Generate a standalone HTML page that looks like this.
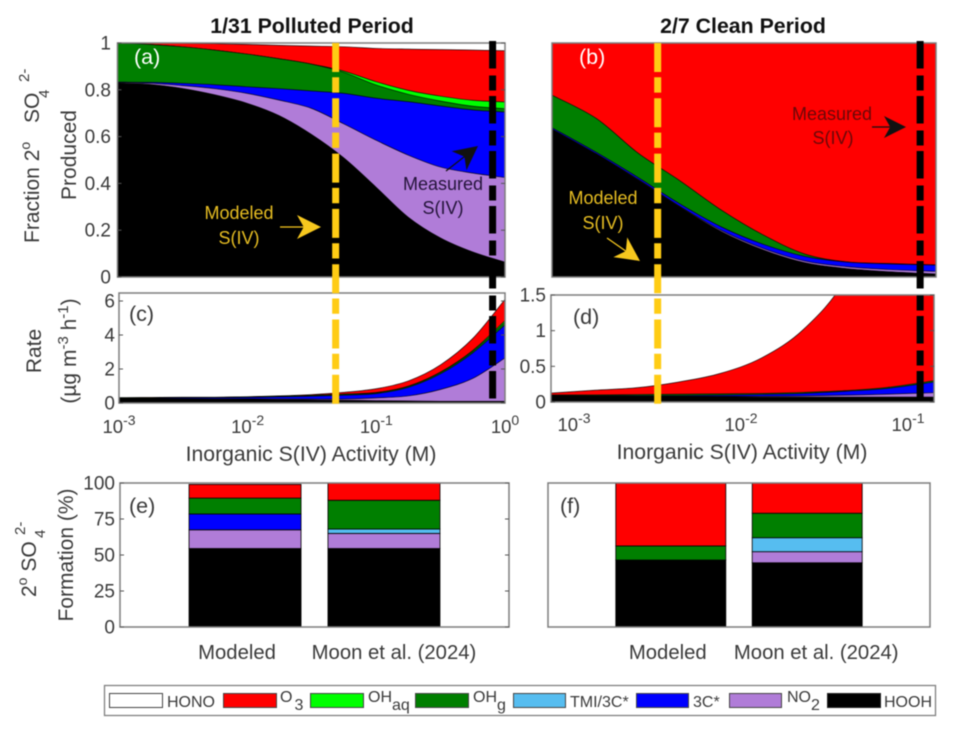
<!DOCTYPE html>
<html>
<head>
<meta charset="utf-8">
<title>Secondary sulfate formation</title>
<style>
html,body{margin:0;padding:0;background:#fff;}
svg{display:block;filter:blur(0.45px);font-family:"Liberation Sans",Arial,sans-serif;}
text{fill:#3a3a3a;}
</style>
</head>
<body>
<svg id="fig" xmlns="http://www.w3.org/2000/svg" width="958" height="729" viewBox="0 0 958 729">
<defs>
<clipPath id="clip-a"><rect x="117.5" y="43" width="387.5" height="234"/></clipPath>
<clipPath id="clip-b"><rect x="552" y="43" width="384" height="234"/></clipPath>
<clipPath id="clip-c"><rect x="119" y="293" width="386" height="110"/></clipPath>
<clipPath id="clip-d"><rect x="551" y="295" width="383" height="107"/></clipPath>
</defs>
<g id="layer-marks"></g>
<g id="layer-ticks"></g>

<text x="312" y="33" text-anchor="middle" font-size="21.3" font-weight="bold" style="fill:#111">1/31 Polluted Period</text>
<text x="743" y="33" text-anchor="middle" font-size="21.3" font-weight="bold" style="fill:#111">2/7 Clean Period</text>

<text transform="translate(39,243) rotate(-90)" font-size="21">Fraction 2<tspan font-size="14" dy="-9">o</tspan><tspan dy="9" dx="13"> SO</tspan></text>
<text transform="translate(49,98) rotate(-90)" font-size="15">4</text>
<text transform="translate(29,82) rotate(-90)" font-size="15">2-</text>
<text transform="translate(76,155) rotate(-90)" font-size="21" text-anchor="middle">Produced</text>

<text transform="translate(41,351) rotate(-90)" font-size="21" text-anchor="middle">Rate</text>
<text transform="translate(76,351) rotate(-90)" font-size="21" text-anchor="middle">(µg m<tspan font-size="15" dy="-8">-3</tspan><tspan dy="8"> h</tspan><tspan font-size="15" dy="-8">-1</tspan><tspan dy="8">)</tspan></text>

<text x="311" y="461" text-anchor="middle" font-size="21.2">Inorganic S(IV) Activity (M)</text>
<text x="742" y="459" text-anchor="middle" font-size="21.2">Inorganic S(IV) Activity (M)</text>

<text transform="translate(36,597) rotate(-90)" font-size="21">2<tspan font-size="14" dy="-9">o</tspan><tspan dy="9"> SO</tspan></text>
<text transform="translate(45,538) rotate(-90)" font-size="15">4</text>
<text transform="translate(25,535) rotate(-90)" font-size="15">2-</text>
<text transform="translate(73,555) rotate(-90)" font-size="21" text-anchor="middle">Formation (%)</text>

<text x="134" y="64" font-size="21.5" style="fill:#fff">(a)</text>
<text x="579" y="64" font-size="21.5" style="fill:#fff">(b)</text>
<text x="129" y="321" font-size="21.5">(c)</text>
<text x="573" y="324" font-size="21.5">(d)</text>
<text x="129" y="513" font-size="21.5">(e)</text>
<text x="560" y="513" font-size="21.5">(f)</text>

<g font-size="18" text-anchor="middle">
<text x="239" y="219" style="fill:#e6bd22">Modeled</text>
<text x="239" y="244" style="fill:#e6bd22">S(IV)</text>
</g>
<g font-size="18" text-anchor="middle">
<text x="443" y="190" style="fill:#24143a">Measured</text>
<text x="443" y="214" style="fill:#24143a">S(IV)</text>
</g>
<g font-size="18" text-anchor="middle">
<text x="603" y="204" style="fill:#e6bd22">Modeled</text>
<text x="603" y="229" style="fill:#e6bd22">S(IV)</text>
</g>
<g font-size="18" text-anchor="middle">
<text x="832" y="120" style="fill:#6a0808">Measured</text>
<text x="833" y="144" style="fill:#6a0808">S(IV)</text>
</g>

<g id="legend">
<rect x="104.5" y="685.5" width="831" height="30" fill="#fff" stroke="#808080" stroke-width="1.3"/>
<rect x="109.5" y="693.5" width="53" height="14" fill="#fff" stroke="#444" stroke-width="1"/>
<text x="167" y="707" font-size="16">HONO</text>
<rect x="223.5" y="693.5" width="53" height="14" fill="#ff0000" stroke="#444" stroke-width="1"/>
<text x="280" y="702" font-size="16">O<tspan dy="8" dx="2" font-size="16">3</tspan></text>
<rect x="310.5" y="693.5" width="53" height="14" fill="#00ff00" stroke="#444" stroke-width="1"/>
<text x="368" y="702" font-size="16">OH<tspan dy="8" font-size="16">aq</tspan></text>
<rect x="415.5" y="693.5" width="53" height="14" fill="#007f00" stroke="#444" stroke-width="1"/>
<text x="473" y="702" font-size="16">OH<tspan dy="8" font-size="16">g</tspan></text>
<rect x="513.5" y="693.5" width="52" height="14" fill="#56bdf0" stroke="#444" stroke-width="1"/>
<text x="570" y="707" font-size="16">TMI/3C*</text>
<rect x="636.5" y="693.5" width="52" height="14" fill="#0000ff" stroke="#444" stroke-width="1"/>
<text x="693" y="707" font-size="16">3C*</text>
<rect x="729.5" y="693.5" width="52" height="14" fill="#b07cd8" stroke="#444" stroke-width="1"/>
<text x="787" y="702" font-size="16">NO<tspan dy="8" font-size="16">2</tspan></text>
<rect x="827.5" y="693.5" width="53" height="14" fill="#000" stroke="#222" stroke-width="1"/>
<text x="884" y="707" font-size="16">HOOH</text>
</g>
</svg>

<script>
// ---- Panel (a) fraction, cumulative boundaries
const logA = [-3,-2.75,-2.5,-2.25,-2,-1.75,-1.5,-1.25,-1,-0.75,-0.5,-0.25,0];
const aHooh = [.828,.823,.806,.779,.743,.69,.61,.51,.385,.256,.167,.107,.064];
const aNo2  = [.830,.828,.818,.805,.785,.756,.721,.655,.585,.521,.47,.444,.425];
const a3c   = [.833,.832,.828,.822,.813,.805,.795,.785,.764,.749,.731,.714,.705];
const aOhg  = [.999,.994,.984,.970,.953,.933,.910,.875,.821,.781,.752,.73,.719];
const aOhaq = [.999,.994,.984,.970,.953,.933,.910,.88,.835,.798,.773,.755,.748];
const aO3   = [1,1,.999,.997,.994,.99,.987,.984,.977,.974,.972,.97,.967];

// ---- Panel (b) fraction
const logB = [-3.14,-2.875,-2.625,-2.375,-2.125,-1.875,-1.625,-1.375,-1.125,-0.84];
const bHooh = [.631,.525,.415,.30,.194,.116,.061,.036,.023,.013];
const bNo2  = [.633,.527,.418,.303,.199,.122,.068,.044,.032,.024];
const b3c   = [.638,.533,.426,.313,.214,.14,.088,.064,.056,.051];
const bOhg  = [.777,.678,.53,.412,.286,.18,.098,.065,.058,.052];
const bO3   = [1,1,1,1,1,1,1,1,1,1];

// ---- Panel (c) rate
const cHooh = [.24,.24,.24,.23,.22,.2,.18,.16,.14,.12,.1,.1,.1];
const cNo2  = [.25,.25,.25,.25,.25,.24,.23,.23,.3,.42,.8,1.45,2.65];
const c3c   = [.28,.28,.3,.31,.33,.36,.4,.46,.55,.92,1.72,2.95,4.6];
const cOhg  = [.3,.3,.32,.33,.36,.4,.45,.52,.6,.98,1.8,3.05,4.75];
const cOhaq = [.3,.3,.32,.33,.36,.4,.45,.53,.62,1.0,1.83,3.1,4.85];
const cO3   = [.32,.33,.34,.34,.37,.42,.5,.63,.84,1.3,2.25,3.8,6.1];

// ---- Panel (d) rate
const dHooh = [.09,.085,.08,.08,.075,.07,.07,.07,.07,.07];
const dNo2  = [.09,.085,.08,.08,.08,.08,.085,.095,.11,.13];
const d3c   = [.092,.09,.09,.09,.095,.105,.12,.15,.19,.28];
const dOhg  = [.1,.1,.105,.11,.115,.12,.135,.16,.205,.3];
const dO3   = [.125,.165,.2,.28,.40,.62,1.02,1.72,3,6];

// ---- Panels (e),(f) stacked bars: [Modeled, Moon et al.]
const barCategories = ['Modeled','Moon et al. (2024)'];
const eHooh = [54.5,54.5];
const eNo2  = [13,10.5];
const e3c   = [11,0];
const eTmi  = [0,3];
const eOhg  = [11,20];
const eO3   = [9.5,12];
const fHooh = [46.5,44.6];
const fNo2  = [0,7.7];
const f3c   = [0,0];
const fTmi  = [0,9.7];
const fOhg  = [9.8,17];
const fO3   = [43.7,21];

// ---- Ticks and S(IV) markers
const fracTicks = [0,0.2,0.4,0.6,0.8,1];
const rateTicksC = [0,2,4,6];
const rateTicksD = [0,0.5,1,1.5];
const pctTicks = [0,25,50,75,100];
const expTicksC = [-3,-2,-1,0];
const expTicksD = [-3,-2,-1];
const modeledLogPolluted = -1.311;
const measuredLogPolluted = -0.096;
const modeledLogClean = -2.507;
const measuredLogClean = -0.935;

const RED='#ff0000', LIME='#00ff00', GREEN='#007f00', SKY='#56bdf0', BLUE='#0000ff', PURPLE='#b07cd8', BLACK='#000000';
const NS='http://www.w3.org/2000/svg';
const marks=document.getElementById('layer-marks');
const ticksLayer=document.getElementById('layer-ticks');

function linear(d0,d1,r0,r1){return v=>r0+(v-d0)*(r1-r0)/(d1-d0);}

function smoothPath(pts){
  let d='M'+pts[0][0].toFixed(2)+' '+pts[0][1].toFixed(2);
  for(let i=0;i<pts.length-1;i++){
    const p0=pts[Math.max(0,i-1)],p1=pts[i],p2=pts[i+1],p3=pts[Math.min(pts.length-1,i+2)];
    const c1x=p1[0]+(p2[0]-p0[0])/6,c1y=p1[1]+(p2[1]-p0[1])/6;
    const c2x=p2[0]-(p3[0]-p1[0])/6,c2y=p2[1]-(p3[1]-p1[1])/6;
    d+=' C'+c1x.toFixed(2)+' '+c1y.toFixed(2)+' '+c2x.toFixed(2)+' '+c2y.toFixed(2)+' '+p2[0].toFixed(2)+' '+p2[1].toFixed(2);
  }
  return d;
}

function drawArea(name,logs,values,color,xs,ys,clipId){
  const pts=logs.map((l,i)=>[xs(l),ys(values[i])]);
  const el=document.createElementNS(NS,'path');
  
  
  const d=smoothPath(pts)+' L'+xs(logs[logs.length-1]).toFixed(2)+' '+ys(0).toFixed(2)+' L'+xs(logs[0]).toFixed(2)+' '+ys(0).toFixed(2)+' Z';
  el.setAttribute('d',d);
  el.setAttribute('fill',color);
  el.setAttribute('stroke','#000');
  el.setAttribute('stroke-width','0.6');
  el.setAttribute('clip-path','url(#'+clipId+')');
  marks.appendChild(el);
}

function drawFrame(name,x0,x1,y0,y1){
  const r=document.createElementNS(NS,'rect');
  
  
  r.setAttribute('x',x0);
  r.setAttribute('y',y0);
  r.setAttribute('width',x1-x0);
  r.setAttribute('height',y1-y0);
  r.setAttribute('fill','none');
  r.setAttribute('stroke','#7d7d7d');
  r.setAttribute('stroke-width','1.5');
  ticksLayer.appendChild(r);
}

function drawYTicks(name,values,ys,labelX,frameL,frameR){
  values.forEach(v=>{
    const t=document.createElementNS(NS,'text');
    
    
    t.setAttribute('x',labelX);
    t.setAttribute('y',ys(v)+6.5);
    t.setAttribute('text-anchor','end');
    t.setAttribute('font-size','19');
    t.textContent=String(v);
    ticksLayer.appendChild(t);
    [[frameL,frameL+4],[frameR,frameR-4]].forEach(seg=>{
      const m=document.createElementNS(NS,'line');
      
      
      m.setAttribute('x1',seg[0]);
      m.setAttribute('x2',seg[1]);
      m.setAttribute('y1',ys(v));
      m.setAttribute('y2',ys(v));
      m.setAttribute('stroke','#555');
      m.setAttribute('stroke-width','1');
      ticksLayer.appendChild(m);
    });
  });
}

function drawXTicks(name,exps,xs,baseline){
  exps.forEach(e=>{
    const t=document.createElementNS(NS,'text');
    
    
    t.setAttribute('x',xs(e));
    t.setAttribute('y',baseline);
    t.setAttribute('text-anchor','middle');
    t.setAttribute('font-size','18.5');
    t.textContent='10';
    const s=document.createElementNS(NS,'tspan');
    s.setAttribute('dy','-8');
    s.setAttribute('font-size','14');
    s.textContent=String(e);
    t.appendChild(s);
    ticksLayer.appendChild(t);
  });
}

function drawBars(panel,seriesList,colors,xs,ys,halfWidth){
  barCategories.forEach((cat,c)=>{
    let base=0;
    seriesList.forEach((vals,s)=>{
      const v=vals[c];
      if(v>0){
        const r=document.createElementNS(NS,'rect');
        
        
        r.setAttribute('x',xs(c+1)-halfWidth);
        r.setAttribute('width',halfWidth*2);
        r.setAttribute('y',ys(base+v));
        r.setAttribute('height',ys(base)-ys(base+v));
        r.setAttribute('fill',colors[s]);
        r.setAttribute('stroke','#000');
        r.setAttribute('stroke-width','0.8');
        marks.appendChild(r);
      }
      base+=v;
    });
  });
}

function drawBarLabels(panel,xs,offsets){
  barCategories.forEach((cat,c)=>{
    const t=document.createElementNS(NS,'text');
    
    
    t.setAttribute('x',xs(c+1)+offsets[c]);
    t.setAttribute('y',659);
    t.setAttribute('text-anchor','middle');
    t.setAttribute('font-size','20.3');
    t.textContent=cat;
    ticksLayer.appendChild(t);
  });
}

function drawDashLine(name,x,y0,y1,color,dash){
  const l=document.createElementNS(NS,'line');
  
  
  l.setAttribute('x1',x);
  l.setAttribute('x2',x);
  l.setAttribute('y1',y0);
  l.setAttribute('y2',y1);
  l.setAttribute('stroke',color);
  l.setAttribute('stroke-width','7');
  l.setAttribute('stroke-dasharray',dash);
  ticksLayer.appendChild(l);
}

function drawArrow(name,x1,y1,x2,y2,color,size){
  const ang=Math.atan2(y2-y1,x2-x1),c=Math.cos(ang),s=Math.sin(ang);
  const bx=x2-c*size,by=y2-s*size;
  const nx=x2-c*size*0.72,ny=y2-s*size*0.72;
  const w=size*0.5;
  const l=document.createElementNS(NS,'line');
  
  
  l.setAttribute('x1',x1);
  l.setAttribute('y1',y1);
  l.setAttribute('x2',nx);
  l.setAttribute('y2',ny);
  l.setAttribute('stroke',color);
  l.setAttribute('stroke-width','1.3');
  ticksLayer.appendChild(l);
  const p=document.createElementNS(NS,'polygon');
  
  
  p.setAttribute('points',[x2,y2,bx-s*w,by+c*w,nx,ny,bx+s*w,by-c*w].map(n=>n.toFixed(1)).join(' '));
  p.setAttribute('fill',color);
  ticksLayer.appendChild(p);
}

// Axis functions
const xA=linear(-3,0,117.5,505), yA=linear(0,1,277,43);
const xB=linear(-3.14,-0.84,552,936), yB=linear(0,1,277,43);
const xC=linear(-3,0,119,505), yC=linear(0,6.47,403,293);
const xD=linear(-3,-1,574,908), yD=linear(0,1.5,402,295);
const xE=linear(0.1,2.9,120,509), yE=linear(0,100,627,483);
const xF=linear(0.1,2.9,548,930), yF=linear(0,100,627,483);

// Panel a: white background + areas painted from the top layer down
drawArea('area-a-o3',logA,aO3,RED,xA,yA,'clip-a');
drawArea('area-a-ohaq',logA,aOhaq,LIME,xA,yA,'clip-a');
drawArea('area-a-ohg',logA,aOhg,GREEN,xA,yA,'clip-a');
drawArea('area-a-3c',logA,a3c,BLUE,xA,yA,'clip-a');
drawArea('area-a-no2',logA,aNo2,PURPLE,xA,yA,'clip-a');
drawArea('area-a-hooh',logA,aHooh,BLACK,xA,yA,'clip-a');

drawArea('area-b-o3',logB,bO3,RED,xB,yB,'clip-b');
drawArea('area-b-ohg',logB,bOhg,GREEN,xB,yB,'clip-b');
drawArea('area-b-3c',logB,b3c,BLUE,xB,yB,'clip-b');
drawArea('area-b-no2',logB,bNo2,PURPLE,xB,yB,'clip-b');
drawArea('area-b-hooh',logB,bHooh,BLACK,xB,yB,'clip-b');

drawArea('area-c-o3',logA,cO3,RED,xC,yC,'clip-c');
drawArea('area-c-ohaq',logA,cOhaq,LIME,xC,yC,'clip-c');
drawArea('area-c-ohg',logA,cOhg,GREEN,xC,yC,'clip-c');
drawArea('area-c-3c',logA,c3c,BLUE,xC,yC,'clip-c');
drawArea('area-c-no2',logA,cNo2,PURPLE,xC,yC,'clip-c');
drawArea('area-c-hooh',logA,cHooh,BLACK,xC,yC,'clip-c');

drawArea('area-d-o3',logB,dO3,RED,xD,yD,'clip-d');
drawArea('area-d-ohg',logB,dOhg,GREEN,xD,yD,'clip-d');
drawArea('area-d-3c',logB,d3c,BLUE,xD,yD,'clip-d');
drawArea('area-d-no2',logB,dNo2,PURPLE,xD,yD,'clip-d');
drawArea('area-d-hooh',logB,dHooh,BLACK,xD,yD,'clip-d');

const barColors=[BLACK,PURPLE,BLUE,SKY,GREEN,RED];
drawBars('e',[eHooh,eNo2,e3c,eTmi,eOhg,eO3],barColors,xE,yE,56);
drawBars('f',[fHooh,fNo2,f3c,fTmi,fOhg,fO3],barColors,xF,yF,55);

drawFrame('panel-a-frame',117.5,505,43,277);
drawFrame('panel-b-frame',552,936,43,277);
drawFrame('panel-c-frame',119,505,293,403);
drawFrame('panel-d-frame',551,934,295,402);
drawFrame('panel-e-frame',120,509,483,627);
drawFrame('panel-f-frame',548,930,483,627);

drawYTicks('y-tick-a',fracTicks,yA,111,117.5,505);
drawYTicks('y-tick-c',rateTicksC,yC,115,119,505);
drawYTicks('y-tick-d',rateTicksD,yD,546,551,934);
drawYTicks('y-tick-e',pctTicks,yE,115,120,509);
drawXTicks('x-tick-c',expTicksC,xC,433);
drawXTicks('x-tick-d',expTicksD,xD,431);
drawBarLabels('e',xE,[-8,10]);
drawBarLabels('f',xF,[-3,9]);

const dashY='29 5.3 15.3 5.7', dashK='27.5 7 15 5.5';
drawDashLine('modeled-siv-line-polluted',xA(modeledLogPolluted),43,404,'#ffcc14',dashY);
drawDashLine('measured-siv-line-polluted',xA(measuredLogPolluted),41,402,'#000',dashK);
drawDashLine('modeled-siv-line-clean',xB(modeledLogClean),43,404,'#ffcc14',dashY);
drawDashLine('measured-siv-line-clean',xB(measuredLogClean),41,402,'#000',dashK);

drawArrow('arrow-modeled-a',280,227,321,227,'#f7c81e',24);
drawArrow('arrow-measured-a',446,171,478,146,'#111',24);
drawArrow('arrow-modeled-b',607,238,640,261,'#f7c81e',24);
drawArrow('arrow-measured-b',872,127,906,127,'#111',22);
</script>
</body>
</html>
